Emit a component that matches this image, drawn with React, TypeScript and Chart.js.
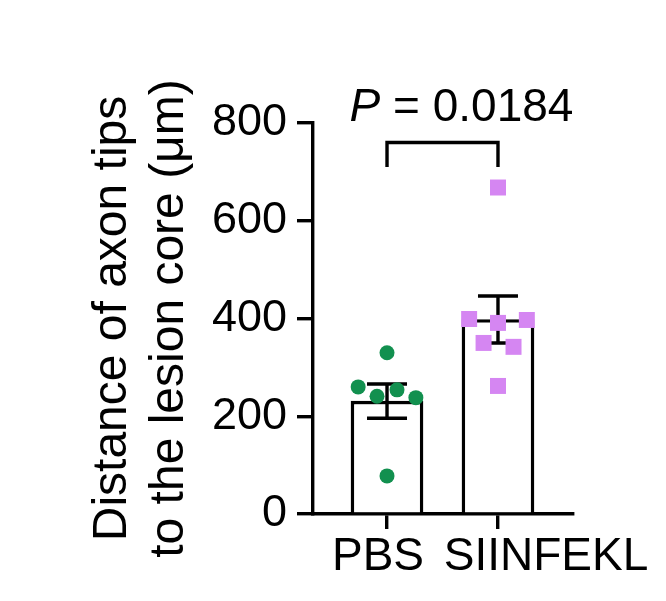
import React, { useEffect, useRef } from "react";
import { Chart, registerables } from "chart.js";

Chart.register(...registerables);

// ---- data ----
const categories = ["PBS", "SIINFEKL"];
const categoryPositions = [1, 2];
const barMeans = [231, 398];
const barSem = [35, 48];
const pbsValues = [330, 260, 241, 254, 238, 78];
const pbsJitter = [0, -0.26, -0.09, 0.09, 0.26, 0];
const siinfeklValues = [668, 399, 391, 397, 350, 342, 262];
const siinfeklJitter = [0, -0.26, 0, 0.26, -0.13, 0.14, 0];
const yTicks = [0, 200, 400, 600, 800];
const pValueText = "0.0184";
const bracketTop = 760;
const bracketBottom = 710;
// horizontal shift (px) of each category label from its tick, as in the original layout
const labelShift = [-9, 48];

const FONT = 'Arial, "Liberation Sans", sans-serif';
const BLACK = "#000000";
const GREEN = "#12904f";
const VIOLET = "#d586f2";
const LW = 3.4;

const errorBarPlugin = {
  id: "errorBars",
  afterDatasetDraw(chart: any, args: any) {
    if (args.index !== 0) return;
    const { ctx } = chart;
    const xs = chart.scales.x;
    const ys = chart.scales.y;
    ctx.save();
    ctx.strokeStyle = BLACK;
    ctx.lineWidth = LW;
    ctx.lineCap = "butt";
    for (let i = 0; i < barMeans.length; i++) {
      const x = xs.getPixelForValue(categoryPositions[i]);
      const yHi = ys.getPixelForValue(barMeans[i] + barSem[i]);
      const yLo = ys.getPixelForValue(barMeans[i] - barSem[i]);
      const half = 20;
      ctx.beginPath();
      ctx.moveTo(x, yHi);
      ctx.lineTo(x, yLo);
      ctx.moveTo(x - half, yHi);
      ctx.lineTo(x + half, yHi);
      ctx.moveTo(x - half, yLo);
      ctx.lineTo(x + half, yLo);
      ctx.stroke();
    }
    ctx.restore();
  },
};

const xLabelPlugin = {
  id: "xLabels",
  afterDraw(chart: any) {
    const { ctx } = chart;
    const xs = chart.scales.x;
    ctx.save();
    ctx.fillStyle = BLACK;
    ctx.font = `46px ${FONT}`;
    ctx.textAlign = "center";
    ctx.textBaseline = "alphabetic";
    categories.forEach((c, i) => {
      const x = xs.getPixelForValue(categoryPositions[i]) + labelShift[i];
      ctx.fillText(c, x, xs.top + 56);
    });
    ctx.restore();
  },
};

const annotationPlugin = {
  id: "significance",
  afterDraw(chart: any) {
    const { ctx } = chart;
    const xs = chart.scales.x;
    const ys = chart.scales.y;
    const x1 = xs.getPixelForValue(categoryPositions[0]);
    const x2 = xs.getPixelForValue(categoryPositions[1]);
    const yt = ys.getPixelForValue(bracketTop);
    const yb = ys.getPixelForValue(bracketBottom);
    ctx.save();
    ctx.strokeStyle = BLACK;
    ctx.lineWidth = LW;
    ctx.lineJoin = "miter";
    ctx.beginPath();
    ctx.moveTo(x1, yb);
    ctx.lineTo(x1, yt);
    ctx.lineTo(x2, yt);
    ctx.lineTo(x2, yb);
    ctx.stroke();

    ctx.fillStyle = BLACK;
    ctx.textBaseline = "alphabetic";
    ctx.textAlign = "left";
    const italic = `italic 46px ${FONT}`;
    const normal = `46px ${FONT}`;
    ctx.font = italic;
    const wP = ctx.measureText("P").width;
    ctx.font = normal;
    const rest = " = " + pValueText;
    const wR = ctx.measureText(rest).width;
    const total = wP + wR;
    const cx = (x1 + x2) / 2 + 19;
    const left = cx - total / 2;
    const ty = yt - 22;
    ctx.font = italic;
    ctx.fillText("P", left, ty);
    ctx.font = normal;
    ctx.fillText(rest, left + wP, ty);
    ctx.restore();
  },
};

export default function App() {
  const ref = useRef<HTMLCanvasElement | null>(null);

  useEffect(() => {
    if (!ref.current) return;
    const chart = new Chart(ref.current, {
      type: "bar",
      data: {
        datasets: [
          {
            type: "bar",
            label: "mean",
            data: categoryPositions.map((x, i) => ({ x, y: barMeans[i] })),
            backgroundColor: "#ffffff",
            borderColor: BLACK,
            borderWidth: LW,
            barThickness: 72,
            order: 3,
          } as any,
          {
            type: "scatter",
            label: categories[0],
            data: pbsValues.map((v, i) => ({ x: categoryPositions[0] + pbsJitter[i], y: v })),
            pointStyle: "circle",
            pointRadius: 7.5,
            backgroundColor: GREEN,
            borderColor: GREEN,
            borderWidth: 0,
            order: 1,
          } as any,
          {
            type: "scatter",
            label: categories[1],
            data: siinfeklValues.map((v, i) => ({ x: categoryPositions[1] + siinfeklJitter[i], y: v })),
            pointStyle: "rect",
            pointRadius: 11.3,
            backgroundColor: VIOLET,
            borderColor: VIOLET,
            borderWidth: 0,
            order: 1,
          } as any,
        ],
      },
      options: {
        responsive: false,
        animation: false,
        devicePixelRatio: 1,
        layout: { padding: { top: 123, right: 93, left: 0, bottom: 0 } },
        plugins: {
          legend: { display: false },
          tooltip: { enabled: false },
        },
        scales: {
          x: {
            type: "linear",
            min: 0.333,
            max: 2.676,
            offset: false,
            afterBuildTicks: (scale: any) => {
              scale.ticks = categoryPositions.map((v) => ({ value: v }));
            },
            afterFit: (scale: any) => {
              scale.height = 87;
            },
            ticks: {
              display: false,
              autoSkip: false,
              maxRotation: 0,
            },
            grid: {
              offset: false,
              drawOnChartArea: false,
              drawTicks: true,
              tickLength: 15,
              tickWidth: LW,
              color: BLACK,
              lineWidth: LW,
            },
            border: { display: true, color: BLACK, width: LW },
          },
          y: {
            type: "linear",
            min: 0,
            max: 800,
            afterBuildTicks: (scale: any) => {
              scale.ticks = yTicks.map((v) => ({ value: v }));
            },
            afterFit: (scale: any) => {
              scale.width = 313;
            },
            ticks: {
              padding: 10,
              color: BLACK,
              font: { family: FONT, size: 45 },
            },
            grid: {
              drawOnChartArea: false,
              drawTicks: true,
              tickLength: 16,
              tickWidth: LW,
              color: BLACK,
              lineWidth: LW,
            },
            border: { display: true, color: BLACK, width: LW },
            title: {
              display: true,
              text: ["Distance of axon tips", "to the lesion core (μm)"],
              color: BLACK,
              font: { family: FONT, size: 48, lineHeight: 1.19 },
              padding: { top: 84, bottom: 0 },
            },
          },
        },
      },
      plugins: [errorBarPlugin, xLabelPlugin, annotationPlugin],
    } as any);
    return () => chart.destroy();
  }, []);

  return (
    <div style={{ position: "absolute", left: 0, top: 0, width: 666, height: 601, background: "#ffffff" }}>
      <canvas ref={ref} width={666} height={601} style={{ display: "block" }} />
    </div>
  );
}
